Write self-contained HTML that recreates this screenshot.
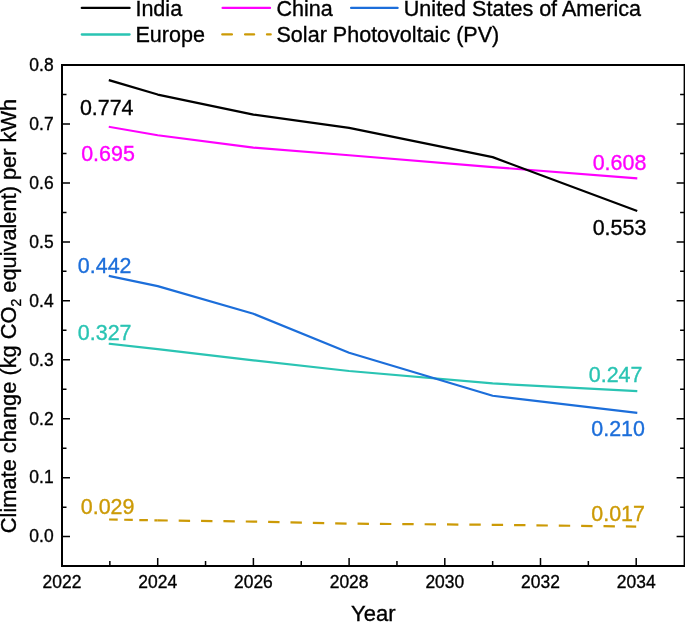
<!DOCTYPE html><html><head><meta charset="utf-8"><style>
html,body{margin:0;padding:0;background:#fff;}
body{width:685px;height:622px;overflow:hidden;}
svg{display:block;font-family:"Liberation Sans",sans-serif;will-change:transform;}
text{fill:#000;stroke:#000;stroke-width:0.35px;}
</style></head><body>
<svg width="685" height="622" viewBox="0 0 685 622">
<polyline points="109.85,343.87 157.70,349.17 253.40,360.37 349.10,370.98 492.65,383.47 636.20,391.02" fill="none" stroke="#2AC4B3" stroke-width="2.2" stroke-linejoin="round" stroke-linecap="square"/>
<polyline points="109.85,276.09 157.70,286.11 253.40,313.81 349.10,352.71 492.65,395.73 636.20,412.83" fill="none" stroke="#1C6EDA" stroke-width="2.2" stroke-linejoin="round" stroke-linecap="square"/>
<polyline points="109.85,126.97 157.70,135.22 253.40,147.60 349.10,155.26 492.65,167.05 636.20,178.24" fill="none" stroke="#FF00FF" stroke-width="2.2" stroke-linejoin="round" stroke-linecap="square"/>
<polyline points="109.85,80.40 157.70,94.55 253.40,114.59 349.10,127.85 492.65,157.14 636.20,210.66" fill="none" stroke="#000000" stroke-width="2.2" stroke-linejoin="round" stroke-linecap="square"/>
<polyline points="109.10,519.49 157.70,520.39" fill="none" stroke="#CC9A06" stroke-width="2.2" stroke-dasharray="8.6 6.5"/>
<polyline points="157.70,520.39 253.40,521.57 349.10,523.63 492.65,524.81 636.20,526.58" fill="none" stroke="#CC9A06" stroke-width="2.2" stroke-dasharray="11.4 10.96" stroke-dashoffset="1.36" stroke-linejoin="round"/>
<path d="M62.0,65.0 H684.6 V566.0 H62.0 Z" fill="none" stroke="#000" stroke-width="2.0" stroke-linejoin="miter"/>
<path d="M62.0,536.60h8M684.6,536.60h-8M62.0,507.13h4.5M684.6,507.13h-4.5M62.0,477.66h8M684.6,477.66h-8M62.0,448.19h4.5M684.6,448.19h-4.5M62.0,418.72h8M684.6,418.72h-8M62.0,389.25h4.5M684.6,389.25h-4.5M62.0,359.78h8M684.6,359.78h-8M62.0,330.31h4.5M684.6,330.31h-4.5M62.0,300.84h8M684.6,300.84h-8M62.0,271.37h4.5M684.6,271.37h-4.5M62.0,241.90h8M684.6,241.90h-8M62.0,212.43h4.5M684.6,212.43h-4.5M62.0,182.96h8M684.6,182.96h-8M62.0,153.49h4.5M684.6,153.49h-4.5M62.0,124.02h8M684.6,124.02h-8M62.0,94.55h4.5M684.6,94.55h-4.5M62.0,65.08h8M684.6,65.08h-8M109.85,566.0v-5M157.70,566.0v-8M205.55,566.0v-5M253.40,566.0v-8M301.25,566.0v-5M349.10,566.0v-8M396.95,566.0v-5M444.80,566.0v-8M492.65,566.0v-5M540.50,566.0v-8M588.35,566.0v-5M636.20,566.0v-8" stroke="#000" stroke-width="1.5" fill="none"/>
<g font-size="18" fill="#000">
<text transform="translate(53.6,542.40) scale(0.97,1)" text-anchor="end">0.0</text>
<text transform="translate(53.6,483.46) scale(0.97,1)" text-anchor="end">0.1</text>
<text transform="translate(53.6,424.52) scale(0.97,1)" text-anchor="end">0.2</text>
<text transform="translate(53.6,365.58) scale(0.97,1)" text-anchor="end">0.3</text>
<text transform="translate(53.6,306.64) scale(0.97,1)" text-anchor="end">0.4</text>
<text transform="translate(53.6,247.70) scale(0.97,1)" text-anchor="end">0.5</text>
<text transform="translate(53.6,188.76) scale(0.97,1)" text-anchor="end">0.6</text>
<text transform="translate(53.6,129.82) scale(0.97,1)" text-anchor="end">0.7</text>
<text transform="translate(53.6,70.88) scale(0.97,1)" text-anchor="end">0.8</text>
<text transform="translate(62.00,588.4) scale(0.97,1)" text-anchor="middle">2022</text>
<text transform="translate(157.70,588.4) scale(0.97,1)" text-anchor="middle">2024</text>
<text transform="translate(253.40,588.4) scale(0.97,1)" text-anchor="middle">2026</text>
<text transform="translate(349.10,588.4) scale(0.97,1)" text-anchor="middle">2028</text>
<text transform="translate(444.80,588.4) scale(0.97,1)" text-anchor="middle">2030</text>
<text transform="translate(540.50,588.4) scale(0.97,1)" text-anchor="middle">2032</text>
<text transform="translate(636.20,588.4) scale(0.97,1)" text-anchor="middle">2034</text>
</g>
<text x="373.3" y="620.7" font-size="22" text-anchor="middle">Year</text>
<text transform="translate(15.7,316) rotate(-90)" font-size="21.8" text-anchor="middle">Climate change (kg CO<tspan font-size="14" dy="5">2</tspan><tspan dy="-5"> equivalent) per kWh</tspan></text>
<g font-size="21.45">
<text x="79.90" y="114.50" style="fill:#000;stroke:#000">0.774</text>
<text x="81.20" y="161.00" style="fill:#FF00FF;stroke:#FF00FF">0.695</text>
<text x="77.85" y="273.00" style="fill:#1C6EDA;stroke:#1C6EDA">0.442</text>
<text x="77.85" y="339.80" style="fill:#2AC4B3;stroke:#2AC4B3">0.327</text>
<text x="80.75" y="513.60" style="fill:#CC9A06;stroke:#CC9A06">0.029</text>
<text x="592.70" y="169.70" style="fill:#FF00FF;stroke:#FF00FF">0.608</text>
<text x="592.70" y="234.80" style="fill:#000;stroke:#000">0.553</text>
<text x="588.80" y="381.90" style="fill:#2AC4B3;stroke:#2AC4B3">0.247</text>
<text x="591.30" y="436.30" style="fill:#1C6EDA;stroke:#1C6EDA">0.210</text>
<text x="591.30" y="521.30" style="fill:#CC9A06;stroke:#CC9A06">0.017</text>
</g>
<g stroke-width="2.3" stroke-linecap="round" fill="none">
<line x1="81.8" y1="7.9" x2="129.6" y2="7.9" stroke="#000"/>
<line x1="222.6" y1="7.9" x2="270" y2="7.9" stroke="#FF00FF"/>
<line x1="351.1" y1="7.9" x2="397.6" y2="7.9" stroke="#1C6EDA"/>
<line x1="81.8" y1="34.5" x2="129.6" y2="34.5" stroke="#2AC4B3"/>
<path d="M222.3,34.4h9.6M245.1,34.4h9M267,34.4h3.7" stroke="#CC9A06"/>
</g>
<g font-size="21.55" fill="#000">
<text x="135.4" y="15.9">India</text>
<text x="276.5" y="15.9">China</text>
<text x="403.8" y="15.9">United States of America</text>
<text x="135.5" y="41.6">Europe</text>
<text x="276.5" y="41.6">Solar Photovoltaic (PV)</text>
</g>
</svg></body></html>
